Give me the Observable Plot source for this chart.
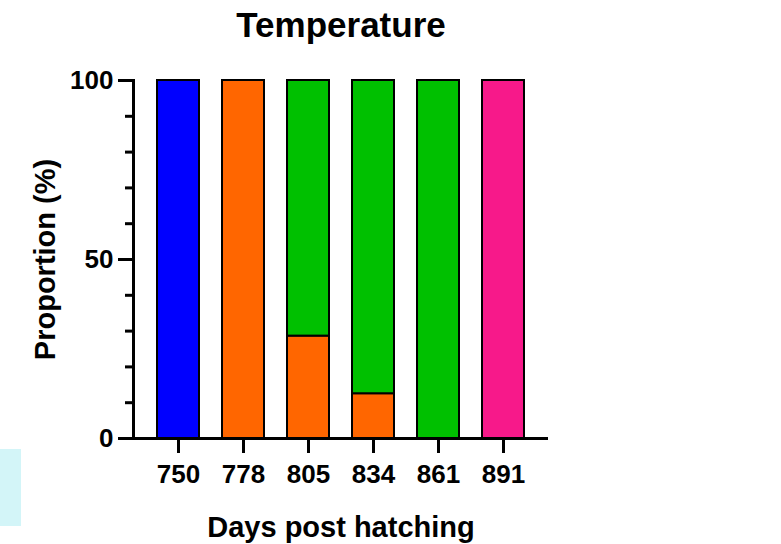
<!DOCTYPE html>
<html>
<head>
<meta charset="utf-8">
<script src="https://cdn.jsdelivr.net/npm/d3@7"></script>
<script src="https://cdn.jsdelivr.net/npm/@observablehq/plot@0.6"></script>
<style>
  body { margin: 0; background: #fff; }
  #wrap { position: relative; width: 781px; height: 544px; }
  #patch { position: absolute; left: 0; top: 449px; width: 21px; height: 77px; background: #d3f5f8; }
</style>
</head>
<body>
<div id="wrap"><div id="patch"></div></div>
<script>
const days = ["750", "778", "805", "834", "861", "891"];
const seriesNames = ["Series 1", "Series 2", "Series 3", "Series 4"];
const seriesColors = ["#0000ff", "#ff6600", "#00c000", "#f7198a"];
const series1 = [100, 0, 0, 0, 0, 0];
const series2 = [0, 100, 28.6, 12.5, 0, 0];
const series3 = [0, 0, 71.4, 87.5, 100, 0];
const series4 = [0, 0, 0, 0, 0, 100];
const majorTicks = [0, 50, 100];
const minorTicks = [10, 20, 30, 40, 60, 70, 80, 90];
const title = "Temperature";
const xTitle = "Days post hatching";
const yTitle = "Proportion (%)";

const allSeries = [series1, series2, series3, series4];
const rows = [];
allSeries.forEach((vals, si) => {
  vals.forEach((v, i) => {
    if (v > 0) rows.push({day: days[i], series: seriesNames[si], value: v});
  });
});

const font = "'Liberation Sans', Arial, Helvetica, sans-serif";

const chart = Plot.plot({
  width: 781,
  height: 544,
  marginLeft: 133,
  marginRight: 233,
  marginTop: 80,
  marginBottom: 106,
  style: {fontFamily: font, fontWeight: "bold", fontSize: "26px", color: "#000", background: "transparent"},
  x: {type: "band", domain: days, paddingInner: 0.36, paddingOuter: 0.348, axis: null},
  y: {domain: [0, 100], axis: null},
  color: {domain: seriesNames, range: seriesColors},
  marks: [
    Plot.barY(rows, {x: "day", y: "value", fill: "series", stroke: "#000", strokeWidth: 2}),
    Plot.axisY({ticks: majorTicks, tickSize: 15, tickPadding: 5, strokeWidth: 3, label: null, fontSize: 26}),
    Plot.axisY({ticks: minorTicks, tickSize: 8, tickFormat: () => "", strokeWidth: 3, label: null}),
    Plot.axisX({tickSize: 15, tickPadding: 11, strokeWidth: 3, label: null, fontSize: 26}),
    Plot.frame({anchor: "left", strokeWidth: 3}),
    Plot.ruleY([0], {strokeWidth: 3}),
    Plot.text([title], {frameAnchor: "top", dy: -55, lineAnchor: "middle", textAnchor: "middle", text: d => d, fontSize: 35, fontWeight: "bold"}),
    Plot.text([xTitle], {frameAnchor: "bottom", dy: 89, lineAnchor: "middle", textAnchor: "middle", text: d => d, fontSize: 29, fontWeight: "bold"}),
    Plot.text([yTitle], {frameAnchor: "left", dx: -88, rotate: -90, lineAnchor: "middle", textAnchor: "middle", text: d => d, fontSize: 29, fontWeight: "bold"})
  ]
});
document.getElementById("wrap").appendChild(chart);
</script>
</body>
</html>
